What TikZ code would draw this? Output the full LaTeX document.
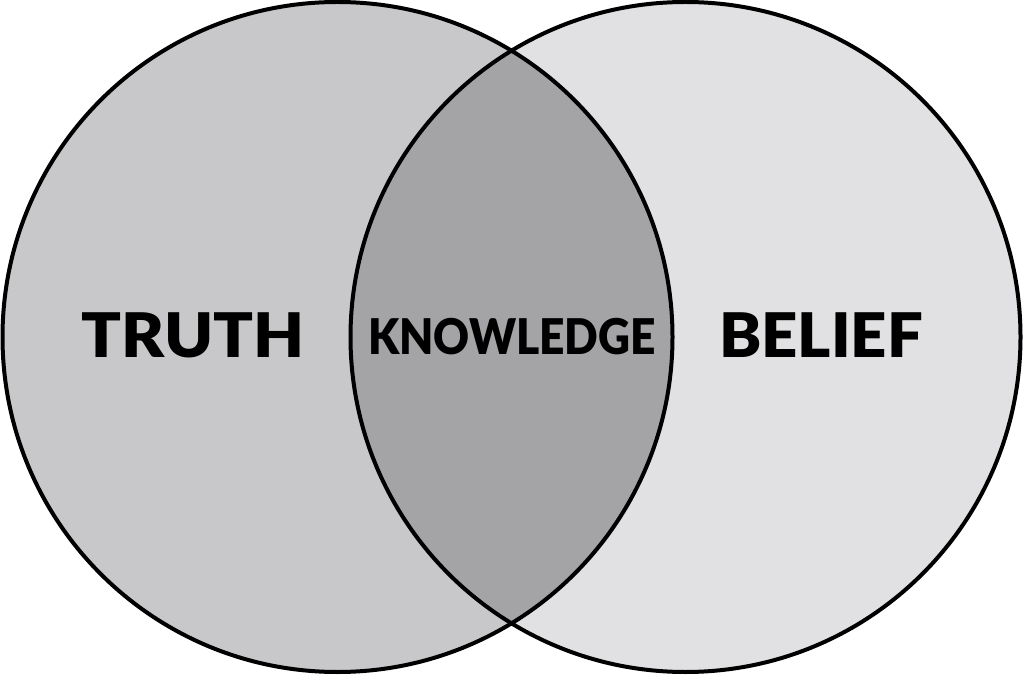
\documentclass[tikz,border=0pt]{standalone}
\usepackage{fontspec}
\newfontfamily\vennfont{Lato Black}
\begin{document}
\begin{tikzpicture}[x=0.02cm, y=-0.02cm, every node/.style={font=\vennfont}]
\definecolor{truthcolor}{RGB}{200,200,202}
\definecolor{beliefcolor}{RGB}{225,225,227}
\definecolor{knowcolor}{RGB}{164,164,167}
\useasboundingbox (0,0) rectangle (1024,675);
% Circles
\fill[truthcolor] (337.5,337) circle (335);
\fill[beliefcolor] (685.5,337) circle (335);
\begin{scope}
  \clip (337.5,337) circle (335);
  \fill[knowcolor] (685.5,337) circle (335);
\end{scope}
\draw[line width=0.08cm] (337.5,337) circle (335);
\draw[line width=0.08cm] (685.5,337) circle (335);
% Labels
\node[font=\vennfont\fontsize{35}{35}\selectfont, xscale=1.07] (truth) at (193,335) {TRUTH};
\node[font=\vennfont\fontsize{28}{28}\selectfont, xscale=0.9] (know) at (512,337) {KNOWLEDGE};
\node[font=\vennfont\fontsize{35}{35}\selectfont, xscale=1.03] (belief) at (821,335) {BELIEF};
\end{tikzpicture}
\end{document}
